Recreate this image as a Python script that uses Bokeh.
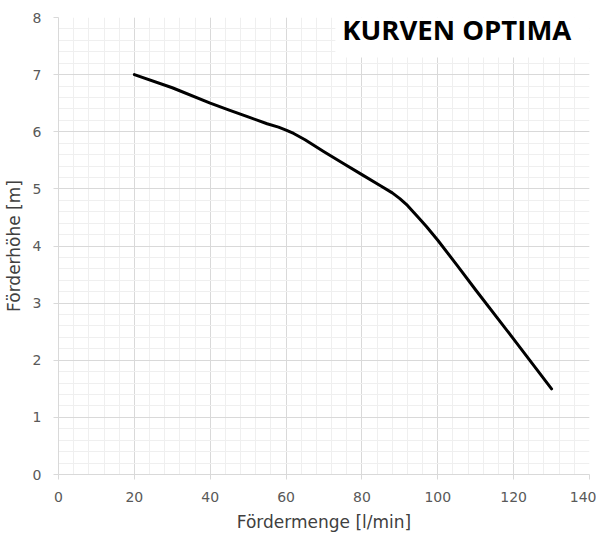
from bokeh.plotting import figure
from bokeh.models import FixedTicker, BoxAnnotation, Label, Range1d
from bokeh.embed import file_html
from bokeh.resources import INLINE

# Data
flow = [20, 30, 40, 45, 50, 55, 58, 60, 62, 65, 70, 75, 80, 85, 88, 90, 92, 95, 97, 100, 105, 110, 120, 130]
head = [7.0, 6.77, 6.5, 6.38, 6.26, 6.14, 6.08, 6.03, 5.97, 5.86, 5.65, 5.45, 5.25, 5.05, 4.93, 4.83, 4.71, 4.49, 4.34, 4.1, 3.67, 3.23, 2.37, 1.5]
x_ticks = [0, 20, 40, 60, 80, 100, 120, 140]
y_ticks = [0, 1, 2, 3, 4, 5, 6, 7, 8]
x_minor = [i * 4 for i in range(36)]
y_minor = [i * 0.2 for i in range(41)]
title_text = "KURVEN OPTIMA"
x_label = "Fördermenge [l/min]"
y_label = "Förderhöhe [m]"

p = figure(frame_width=531, frame_height=457, output_backend="svg", toolbar_location=None,
           x_range=Range1d(0, 140), y_range=Range1d(0, 8),
           min_border_left=58, min_border_right=7, min_border_top=17, min_border_bottom=55)
p.outline_line_color = None
p.background_fill_color = "white"

p.xaxis.ticker = FixedTicker(ticks=x_ticks, minor_ticks=x_minor)
p.yaxis.ticker = FixedTicker(ticks=y_ticks, minor_ticks=y_minor)

for ax in (p.xaxis, p.yaxis):
    ax.axis_line_color = "#d9d9d9"
    ax.major_tick_line_color = "#d9d9d9"
    ax.major_tick_out = 5
    ax.major_tick_in = 0
    ax.minor_tick_line_color = None
    ax.major_label_text_color = "#595959"
    ax.major_label_text_font = "DejaVu Sans"
    ax.major_label_text_font_size = "14px"
    ax.axis_label_text_color = "#404040"
    ax.axis_label_text_font_style = "normal"

p.xaxis.major_label_standoff = 12
p.yaxis.major_label_standoff = 12
p.xaxis.axis_label = x_label
p.xaxis.axis_label_text_font = "DejaVu Sans"
p.xaxis.axis_label_text_font_size = "17px"
p.xaxis.axis_label_standoff = 7
p.yaxis.axis_label = y_label
p.yaxis.axis_label_text_font = "DejaVu Sans"
p.yaxis.axis_label_text_font_size = "17px"
p.yaxis.axis_label_standoff = 6

for g in (p.xgrid, p.ygrid):
    g.grid_line_color = "#d9d9d9"
    g.grid_line_width = 1
    g.minor_grid_line_color = "#efefef"
    g.minor_grid_line_width = 1

p.line(flow, head, line_color="black", line_width=3, line_join="round", line_cap="round")

box = BoxAnnotation(left=73, right=141, bottom=7.3, top=8.4, fill_color="white",
                    fill_alpha=1.0, line_color=None)
p.add_layout(box)
lbl = Label(x=105, y=7.79, text=title_text, text_align="center", text_baseline="middle",
            text_font="Open Sans", text_font_style="bold", text_font_size="27.5px",
            text_color="#000000")
p.add_layout(lbl)

open("out.html", "w").write(file_html(p, INLINE))
